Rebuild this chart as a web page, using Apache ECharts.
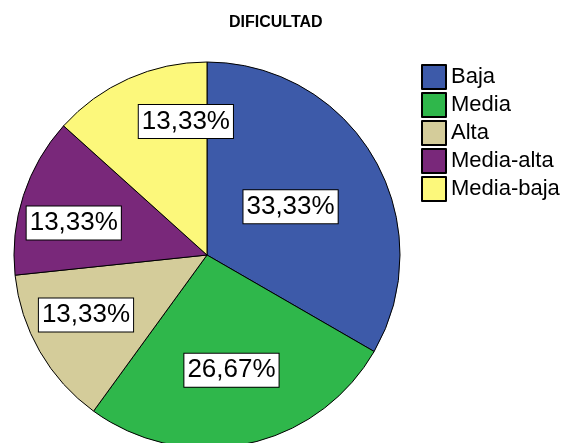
<!DOCTYPE html>
<html>
<head>
<meta charset="utf-8">
<script src="https://cdn.jsdelivr.net/npm/echarts@6/dist/echarts.min.js"></script>
<style>
  html, body { margin: 0; padding: 0; background: #fff; }
  #chart { width: 567px; height: 443px; }
</style>
</head>
<body>
<div id="chart"></div>
<script>
  // categorias y frecuencias (15 casos)
  const categories = ["Baja", "Media", "Alta", "Media-alta", "Media-baja"];
  const counts = [5, 4, 2, 2, 2];
  const colors = ["#3d5aa9", "#2fb74b", "#d4cc9a", "#79287a", "#fcf87b"];

  const total = counts.reduce(function (a, b) { return a + b; }, 0);
  const pieCenter = [207, 255];
  const pieRadius = 193;
  // posicion de las etiquetas: fraccion del radio y giro (grados) respecto al centro del sector
  const labelRadius = [0.5, 0.61, 0.7, 0.71, 0.7];
  const labelTurn = [0, 0, 3.6, -4.5, 15];

  let chart = echarts.init(document.getElementById("chart"));
  let option = {
    animation: false,
    textStyle: { fontFamily: "Liberation Sans, Arial, sans-serif", color: "#000" },
    title: {
      text: "DIFICULTAD",
      left: 224,
      top: 10,
      textStyle: { fontSize: 16, fontWeight: "bold", color: "#000" }
    },
    legend: {
      orient: "vertical",
      left: 416,
      top: 59,
      icon: "rect",
      itemWidth: 24,
      itemHeight: 24,
      itemGap: 2,
      data: categories,
      textStyle: { fontSize: 22, color: "#000" }
    },
    series: [
      {
        type: "pie",
        center: pieCenter,
        radius: pieRadius,
        startAngle: 90,
        clockwise: true,
        avoidLabelOverlap: false,
        itemStyle: { borderColor: "#000", borderWidth: 1 },
        label: {
          show: true,
          position: "inside",
          fontSize: 26,
          color: "#000",
          backgroundColor: "#fff",
          borderColor: "#000",
          borderWidth: 1,
          padding: [4, 3, 3, 3],
          formatter: function (p) {
            return (counts[p.dataIndex] / total * 100).toFixed(2).replace(".", ",") + "%";
          }
        },
        labelLine: { show: false },
        labelLayout: function (params) {
          let r = params.labelRect;
          let dx = r.x + r.width / 2 - pieCenter[0];
          let dy = r.y + r.height / 2 - pieCenter[1];
          // angulo medio del sector, medido en sentido horario desde arriba
          let a = Math.atan2(dx, -dy) + labelTurn[params.dataIndex] * Math.PI / 180;
          let d = pieRadius * labelRadius[params.dataIndex];
          return {
            x: pieCenter[0] + Math.sin(a) * d,
            y: pieCenter[1] - Math.cos(a) * d
          };
        },
        emphasis: { disabled: true },
        data: categories.map(function (c, i) {
          return { name: c, value: counts[i], itemStyle: { color: colors[i] } };
        })
      }
    ]
  };
  chart.setOption(option);
</script>
</body>
</html>
